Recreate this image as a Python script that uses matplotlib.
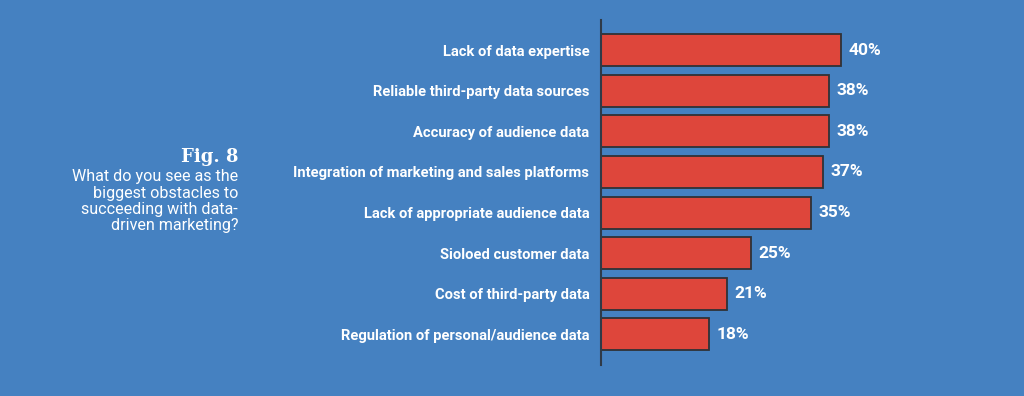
import matplotlib
matplotlib.use("Agg")
from matplotlib import pyplot as plt

obstacles = ['Lack of data expertise',
             'Reliable third-party data sources',
             'Accuracy of audience data',
             'Integration of marketing and sales platforms',
             'Lack of appropriate audience data',
             'Sioloed customer data',
             'Cost of third-party data',
             'Regulation of personal/audience data']
percent = [40, 38, 38, 37, 35, 25, 21, 18]

bg = '#4581c1'
red = '#de463b'

fig = plt.figure(figsize=(10.24, 3.96), dpi=100)
fig.patch.set_facecolor(bg)

ax = fig.add_axes([0.587, 0.078, 0.293, 0.871])
ax.set_facecolor(bg)

pos = list(range(len(obstacles)))
ax.barh(pos, percent, height=0.79, color=red, edgecolor='#2f3236', linewidth=1.3)

ax.set_ylim(7.76, -0.74)
ax.set_xlim(0, 50)

for s in ['top', 'right', 'bottom']:
    ax.spines[s].set_visible(False)
ax.spines['left'].set_color('#2f3a48')
ax.spines['left'].set_linewidth(1.5)

ax.set_xticks([])
ax.set_yticks(pos)
ax.set_yticklabels(obstacles, color='white', fontsize=10.6, fontweight='bold', family='Roboto')
ax.tick_params(axis='y', length=0, pad=8.5)

# etiquetas de porcentaje
for p, v in zip(pos, percent):
    ax.text(v + 1.2, p, f'{v}%', va='center', ha='left', color='white',
            fontsize=12.5, fontweight='bold', family='Roboto')

# titulo a la izquierda
fig.text(0.2325, 0.603, 'Fig. 8', ha='right', va='center', color='white',
         fontsize=13, fontweight='bold', family='DejaVu Serif')
fig.text(0.2325, 0.573, 'What do you see as the\nbiggest obstacles to\nsucceeding with data-\ndriven marketing?',
         ha='right', va='top', color='white', fontsize=11.6, family='Roboto', linespacing=1.12)

fig.savefig('out.png', dpi=100, facecolor=bg)
